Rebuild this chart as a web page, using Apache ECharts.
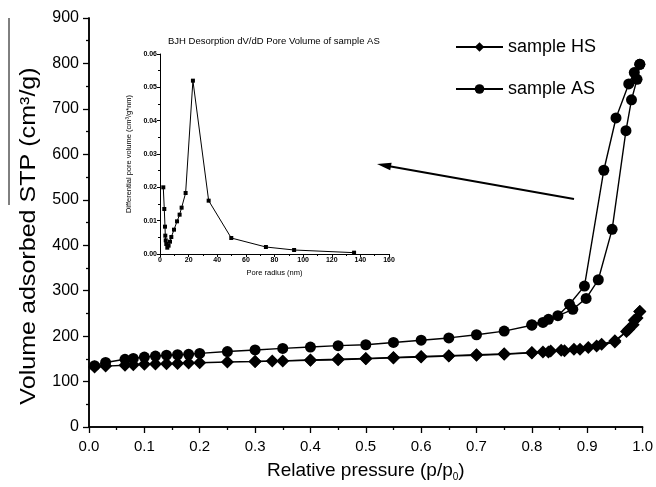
<!DOCTYPE html>
<html><head><meta charset="utf-8">
<script src="https://cdn.jsdelivr.net/npm/echarts@6/dist/echarts.min.js"></script>
<style>html,body{margin:0;padding:0;background:#fff}#c{width:656px;height:487px}</style>
</head><body><div id="c"></div>
<script>
// Main isotherm data [p/p0, volume]
const hsAdsorption = [[0.01,132],[0.03,134],[0.065,136],[0.08,137],[0.1,138],[0.12,138.5],[0.14,139],[0.16,140],[0.18,141],[0.2,141.5],[0.25,143],[0.3,144],[0.35,145.5],[0.4,147],[0.45,148],[0.5,150],[0.55,152],[0.6,154],[0.65,156],[0.7,158],[0.75,160],[0.8,163],[0.82,165],[0.834,167],[0.853,169],[0.876,171],[0.902,175],[0.926,182],[0.95,190],[0.971,210],[0.983,225],[0.99,240],[0.995,254]];
const hsDesorption = [[0.995,254],[0.985,235],[0.975,215],[0.95,187],[0.917,178],[0.887,171],[0.859,168],[0.83,165],[0.8,164],[0.75,161],[0.7,159],[0.65,157],[0.6,155],[0.55,153],[0.5,151],[0.45,149],[0.4,147.5],[0.331,145],[0.3,144]];
const asAdsorption = [[0.01,135],[0.03,142],[0.065,149],[0.08,151],[0.1,154],[0.12,156],[0.14,158],[0.16,159],[0.18,160],[0.2,162],[0.25,166],[0.3,169.5],[0.35,173],[0.4,176],[0.45,179],[0.5,181],[0.55,186],[0.6,191],[0.65,196],[0.7,203],[0.75,211],[0.8,224],[0.82,230],[0.874,259],[0.898,283],[0.92,324],[0.945,435],[0.97,652],[0.98,720],[0.99,765],[0.995,798]];
const asDesorption = [[0.995,798],[0.985,780],[0.975,755],[0.952,680],[0.93,565],[0.895,310],[0.868,270],[0.847,245],[0.83,237],[0.8,225]];
// Inset BJH pore size distribution [radius nm, dV/dD]
const bjhData = [[2.3,0.020],[3.0,0.0135],[3.5,0.0082],[3.7,0.0055],[4.0,0.0041],[4.4,0.0030],[5.1,0.0019],[6.0,0.0025],[7.0,0.0037],[7.9,0.0051],[9.8,0.0073],[11.9,0.0098],[13.7,0.0118],[15.1,0.0139],[17.9,0.0183],[23.0,0.052],[34.0,0.016],[49.8,0.0048],[74,0.0021],[93.7,0.0012],[135.6,0.0004]];
const seriesNames = ['sample HS','sample AS'];
const yTitle = 'Volume adsorbed STP (cm³/g)';

const chart = echarts.init(document.getElementById('c'), null, {renderer:'canvas'});
const font = 'Liberation Sans, Arial, sans-serif';
const lineS = (name, data, symbol, size) => ({
  type:'line', name, data, xAxisIndex:0, yAxisIndex:0, symbol, symbolSize:size,
  itemStyle:{color:'#000'}, lineStyle:{color:'#000', width:1.4}, animation:false, z:3
});
chart.setOption({
  animation:false,
  backgroundColor:'#fff',
  textStyle:{fontFamily:font},
  title:{text:'BJH Desorption dV/dD Pore Volume of sample AS', left:163, top:31,
    textStyle:{fontSize:9.5, fontWeight:'normal', color:'#000', fontFamily:font}},
  legend:{data:seriesNames, orient:'vertical', left:450, top:33, itemWidth:47, itemHeight:12, itemGap:24,
    textStyle:{fontSize:18, color:'#000', fontFamily:font}},
  grid:[
    {left:89, top:18, width:557, height:414},
    {left:160, top:54, width:229, height:200}
  ],
  xAxis:[
    {gridIndex:0, type:'value', min:0, max:1, interval:0.1,
     name:'{a|Relative pressure (p/p}{b|0}{a|)}', nameLocation:'middle', nameGap:33,
     nameTextStyle:{color:'#000', rich:{a:{fontSize:19, color:'#000', fontFamily:font}, b:{fontSize:10, color:'#000', fontFamily:font, padding:[12,0,0,0]}}},
     axisLine:{lineStyle:{color:'#000', width:1.5}}, axisTick:{inside:false, length:6, lineStyle:{color:'#000', width:1.3}},
     minorTick:{show:true, splitNumber:2, length:3, lineStyle:{color:'#000', width:1.3}},
     axisLabel:{fontSize:15, color:'#000', margin:12, formatter:v=>v.toFixed(1)}, splitLine:{show:false}},
    {gridIndex:0, type:'value', min:0, max:1, position:'top', axisLine:{lineStyle:{color:'#000', width:1.5}},
     axisTick:{show:false}, axisLabel:{show:false}, splitLine:{show:false}},
    {gridIndex:1, type:'value', min:0, max:160, interval:20, name:'Pore radius (nm)', nameLocation:'middle', nameGap:15,
     nameTextStyle:{fontSize:7.5, color:'#000'},
     axisLine:{lineStyle:{color:'#000', width:1}}, axisTick:{length:3, lineStyle:{color:'#000'}},
     minorTick:{show:true, splitNumber:2, length:2, lineStyle:{color:'#000'}},
     axisLabel:{fontSize:7, fontWeight:'bold', color:'#000', margin:3}, splitLine:{show:false}}
  ],
  yAxis:[
    {gridIndex:0, type:'value', min:0, max:900, interval:100,
     axisLine:{lineStyle:{color:'#000', width:1.5}}, axisTick:{length:6, lineStyle:{color:'#000', width:1.3}},
     minorTick:{show:true, splitNumber:2, length:3, lineStyle:{color:'#000', width:1.3}},
     axisLabel:{fontSize:16, color:'#000', margin:10}, splitLine:{show:false}},
    {gridIndex:0, type:'value', min:0, max:900, position:'right', axisLine:{show:true, lineStyle:{color:'#000', width:1.5}},
     axisTick:{show:false}, axisLabel:{show:false}, splitLine:{show:false}},
    {gridIndex:1, type:'value', min:0, max:0.06, interval:0.01,
     name:'Differential pore volume (cm³/g*nm)', nameLocation:'middle', nameGap:27,
     nameTextStyle:{fontSize:7.5, color:'#000'},
     axisLine:{lineStyle:{color:'#000', width:1}}, axisTick:{length:3, lineStyle:{color:'#000'}},
     minorTick:{show:true, splitNumber:2, length:2, lineStyle:{color:'#000'}},
     axisLabel:{fontSize:7, fontWeight:'bold', color:'#000', margin:3, formatter:v=>v.toFixed(2)}, splitLine:{show:false}}
  ],
  series:[
    lineS(seriesNames[0], hsAdsorption, 'diamond', 13),
    lineS(seriesNames[0], hsDesorption, 'diamond', 13),
    lineS(seriesNames[1], asAdsorption, 'circle', 11),
    lineS(seriesNames[1], asDesorption, 'circle', 11),
    {type:'line', name:'BJH', data:bjhData, xAxisIndex:2, yAxisIndex:2, symbol:'rect', symbolSize:4,
     itemStyle:{color:'#000'}, lineStyle:{color:'#000', width:1}, z:4}
  ],
  graphic:[
    {type:'text', x:29, y:236, rotation:Math.PI/2, scaleX:1.14, scaleY:1,
     style:{text:yTitle, font:'22px Liberation Sans, Arial, sans-serif', fill:'#000', align:'center', verticalAlign:'middle'}},
    {type:'line', shape:{x1:9, y1:18, x2:9, y2:205}, style:{stroke:'#000', lineWidth:1}},
    {type:'line', shape:{x1:574, y1:199, x2:388, y2:166}, style:{stroke:'#000', lineWidth:2}},
    {type:'polygon', shape:{points:[[377,164],[390.2,170.2],[391.6,162.7]]}, style:{fill:'#000'}}
  ]
});
</script></body></html>
